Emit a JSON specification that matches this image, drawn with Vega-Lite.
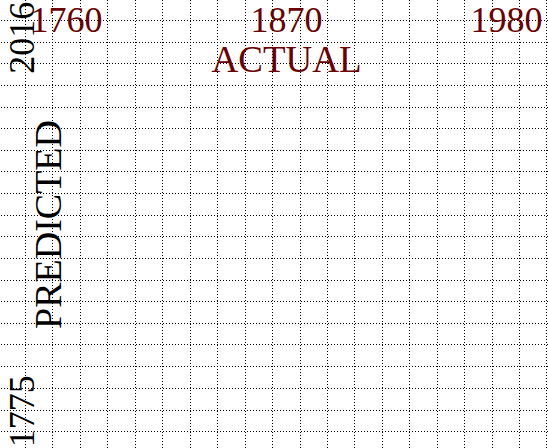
{
  "$schema": "https://vega.github.io/schema/vega-lite/v6.json",
  "width": 548,
  "height": 448,
  "padding": 0,
  "autosize": {"type": "none"},
  "background": "white",
  "config": {"view": {"stroke": null}, "font": "Liberation Serif"},
  "datasets": {
    "vgrid": [
      {"actual": 1739.75}, {"actual": 1753.25}, {"actual": 1767.25}, {"actual": 1780.75}, {"actual": 1794.75},
      {"actual": 1808.25}, {"actual": 1822.25}, {"actual": 1835.75}, {"actual": 1849.75}, {"actual": 1863.25},
      {"actual": 1877.25}, {"actual": 1890.75}, {"actual": 1904.25}, {"actual": 1918.25}, {"actual": 1931.75},
      {"actual": 1945.75}, {"actual": 1959.25}, {"actual": 1973.25}, {"actual": 1986.75}, {"actual": 2000.25}
    ],
    "hgrid": [
      {"predicted": 2026.776}, {"predicted": 2012.584}, {"predicted": 1999.037}, {"predicted": 1984.845}, {"predicted": 1970.653},
      {"predicted": 1957.106}, {"predicted": 1942.914}, {"predicted": 1929.367}, {"predicted": 1915.175}, {"predicted": 1900.983},
      {"predicted": 1887.436}, {"predicted": 1873.245}, {"predicted": 1859.053}, {"predicted": 1845.506}, {"predicted": 1831.314},
      {"predicted": 1817.767}, {"predicted": 1803.575}, {"predicted": 1789.383}, {"predicted": 1775.191}, {"predicted": 1761.644}
    ]
  },
  "layer": [
    {
      "data": {"name": "vgrid"},
      "mark": {"type": "rule", "color": "black", "strokeWidth": 1, "strokeDash": [1, 2]},
      "encoding": {
        "x": {
          "field": "actual", "type": "quantitative",
          "scale": {"domain": [1727, 2001], "nice": false, "zero": false},
          "axis": {
            "orient": "top", "values": [1760, 1870, 1980], "format": "d", "zindex": 1,
            "grid": false, "ticks": false, "tickSize": 0, "domain": false,
            "labelPadding": -31, "labelBaseline": "alphabetic", "labelAlign": "center",
            "labelFont": "Liberation Serif", "labelFontSize": 36, "labelColor": "#6b0000",
            "labelFlush": false, "labelOverlap": false,
            "title": "ACTUAL", "titleFont": "Liberation Serif", "titleFontSize": 37, "titleFontWeight": "normal",
            "titleColor": "#6b0000", "titleX": 286, "titleY": 71, "titleBaseline": "alphabetic", "titleAlign": "center"
          }
        }
      }
    },
    {
      "data": {"name": "hgrid"},
      "mark": {"type": "rule", "color": "black", "strokeWidth": 1, "strokeDash": [1, 2]},
      "encoding": {
        "y": {
          "field": "predicted", "type": "quantitative",
          "scale": {"domain": [1751, 2040], "nice": false, "zero": false},
          "axis": {
            "orient": "left", "values": [2016, 1775], "format": "d", "zindex": 1,
            "grid": false, "ticks": false, "tickSize": 0, "domain": false,
            "labelPadding": -33, "labelAngle": 270, "labelBaseline": "alphabetic", "labelAlign": "center",
            "labelFont": "Liberation Serif", "labelFontSize": 36, "labelColor": "black",
            "labelFlush": false, "labelOverlap": false,
            "title": "PREDICTED", "titleFont": "Liberation Serif", "titleFontSize": 38, "titleFontWeight": "normal",
            "titleColor": "black", "titleX": 60, "titleY": 224, "titleAngle": 270, "titleBaseline": "alphabetic", "titleAlign": "center"
          }
        }
      }
    }
  ]
}
